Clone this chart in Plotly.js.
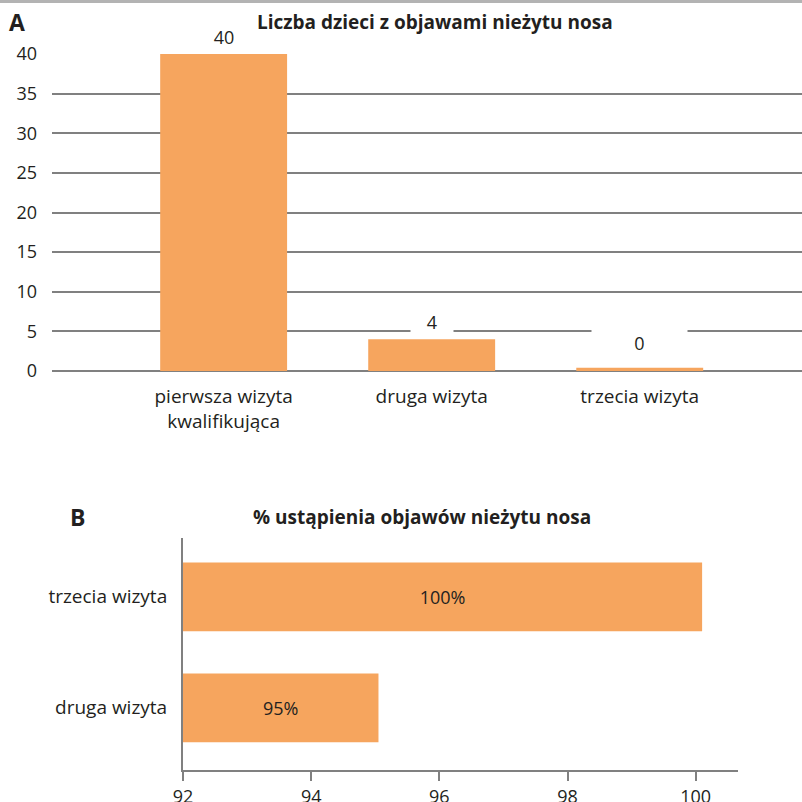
<!DOCTYPE html>
<html><head><meta charset="utf-8">
<script src="https://cdn.plot.ly/plotly-3.0.1.min.js"></script>
<style>html,body{margin:0;padding:0;background:#fff}#chart{width:802px;height:802px}</style>
</head><body><div id="chart"></div>
<script>
// ---- data ----
const visitsA = ["pierwsza wizyta<br>kwalifikująca", "druga wizyta", "trzecia wizyta"];
const childrenA = [40, 4, 0.4];
const titleA = "Liczba dzieci z objawami nieżytu nosa";
const panelA = "A";
const ticksA = [0, 5, 10, 15, 20, 25, 30, 35, 40];

const visitsB = ["druga wizyta", "trzecia wizyta"];
const percentB = [95.05, 100.1];
const titleB = "% ustąpienia objawów nieżytu nosa";
const panelB = "B";
const ticksB = [92, 94, 96, 98, 100];
const axisStartB = 92;

// ---- style ----
const FONT = "Open Sans, Lato, sans-serif";
const TXT = "#231f20";
const ORANGE = "#F6A55E";
const GRID = "#808080";
const labelShiftA = [3, 3, 11];     // px offset of value labels above bars
const labelBoxWidthA = [40, 40, 93]; // white label boxes (cut the gridlines)

const traceA = {
  type: "bar", x: visitsA, y: childrenA, xaxis: "x", yaxis: "y",
  marker: {color: ORANGE}, width: 0.61, hoverinfo: "none"
};
const traceB = {
  type: "bar", orientation: "h", y: visitsB,
  x: percentB.map(v => v - axisStartB), base: axisStartB,
  xaxis: "x2", yaxis: "y2",
  marker: {color: ORANGE}, width: 0.62,
  text: percentB.map(v => Math.round(v) + "%"),
  textposition: "inside", insidetextanchor: "middle",
  textfont: {family: FONT, size: 18, color: TXT}, hoverinfo: "none"
};

const labelAnn = visitsA.map((c, i) => ({
  xref: "x", yref: "y", x: c, y: childrenA[i], yanchor: "bottom",
  text: String(Math.round(childrenA[i])), showarrow: false, yshift: labelShiftA[i],
  bgcolor: "#ffffff", borderpad: 1, width: labelBoxWidthA[i],
  font: {family: FONT, size: 18, color: TXT}
}));

const layout = {
  width: 802, height: 802,
  margin: {l: 0, r: 0, t: 0, b: 0},
  paper_bgcolor: "#fff", plot_bgcolor: "rgba(0,0,0,0)",
  showlegend: false,
  font: {family: FONT, size: 18, color: TXT},
  xaxis: {
    domain: [52/802, 1], range: [-0.825, 2.78], anchor: "y",
    showgrid: false, zeroline: false, showline: false, ticks: "",
    ticklabelstandoff: 12, tickfont: {family: FONT, size: 19, color: TXT},
    fixedrange: true
  },
  yaxis: {
    domain: [1 - 371/802, 1 - 54/802], range: [0, 40], anchor: "x",
    tickvals: ticksA, ticktext: ticksA.map(String),
    showgrid: true, gridcolor: GRID, gridwidth: 2,
    zeroline: true, zerolinecolor: GRID, zerolinewidth: 2,
    showline: false, ticks: "", ticklabelstandoff: 14,
    tickfont: {family: FONT, size: 18, color: TXT}, fixedrange: true
  },
  xaxis2: {
    domain: [183/802, 738/802], range: [92, 100.66], anchor: "y2",
    tickvals: ticksB, ticktext: ticksB.map(String),
    showgrid: false, zeroline: false,
    showline: true, linecolor: GRID, linewidth: 2,
    ticks: "outside", ticklen: 9, tickwidth: 2, tickcolor: GRID,
    tickfont: {family: FONT, size: 18, color: TXT}, fixedrange: true
  },
  yaxis2: {
    domain: [1 - 770/802, 1 - 538/802], range: [-0.56, 1.53], anchor: "x2",
    showgrid: false, zeroline: false,
    showline: true, linecolor: GRID, linewidth: 2,
    ticks: "", ticklabelstandoff: 10,
    tickfont: {family: FONT, size: 19, color: TXT}, fixedrange: true
  },
  shapes: [{
    type: "rect", xref: "paper", yref: "paper", x0: 0, x1: 1,
    y0: 1 - 3/802, y1: 1, fillcolor: "#b3b3b3", line: {width: 0}
  }],
  annotations: [
    {xref: "paper", yref: "paper", x: 435/802, y: 1 - 22/802, xanchor: "center", yanchor: "middle",
     text: "<b>" + titleA + "</b>", showarrow: false, font: {family: FONT, size: 19, color: TXT}},
    {xref: "paper", yref: "paper", x: 7/802, y: 1 - 22/802, xanchor: "left", yanchor: "middle",
     text: "<b>" + panelA + "</b>", showarrow: false, font: {family: FONT, size: 23, color: TXT}},
    {xref: "paper", yref: "paper", x: 422/802, y: 1 - 517/802, xanchor: "center", yanchor: "middle",
     text: "<b>" + titleB + "</b>", showarrow: false, font: {family: FONT, size: 19, color: TXT}},
    {xref: "paper", yref: "paper", x: 68/802, y: 1 - 517/802, xanchor: "left", yanchor: "middle",
     text: "<b>" + panelB + "</b>", showarrow: false, font: {family: FONT, size: 23, color: TXT}}
  ].concat(labelAnn)
};

Plotly.newPlot("chart", [traceA, traceB], layout, {displayModeBar: false, staticPlot: true});
</script></body></html>
